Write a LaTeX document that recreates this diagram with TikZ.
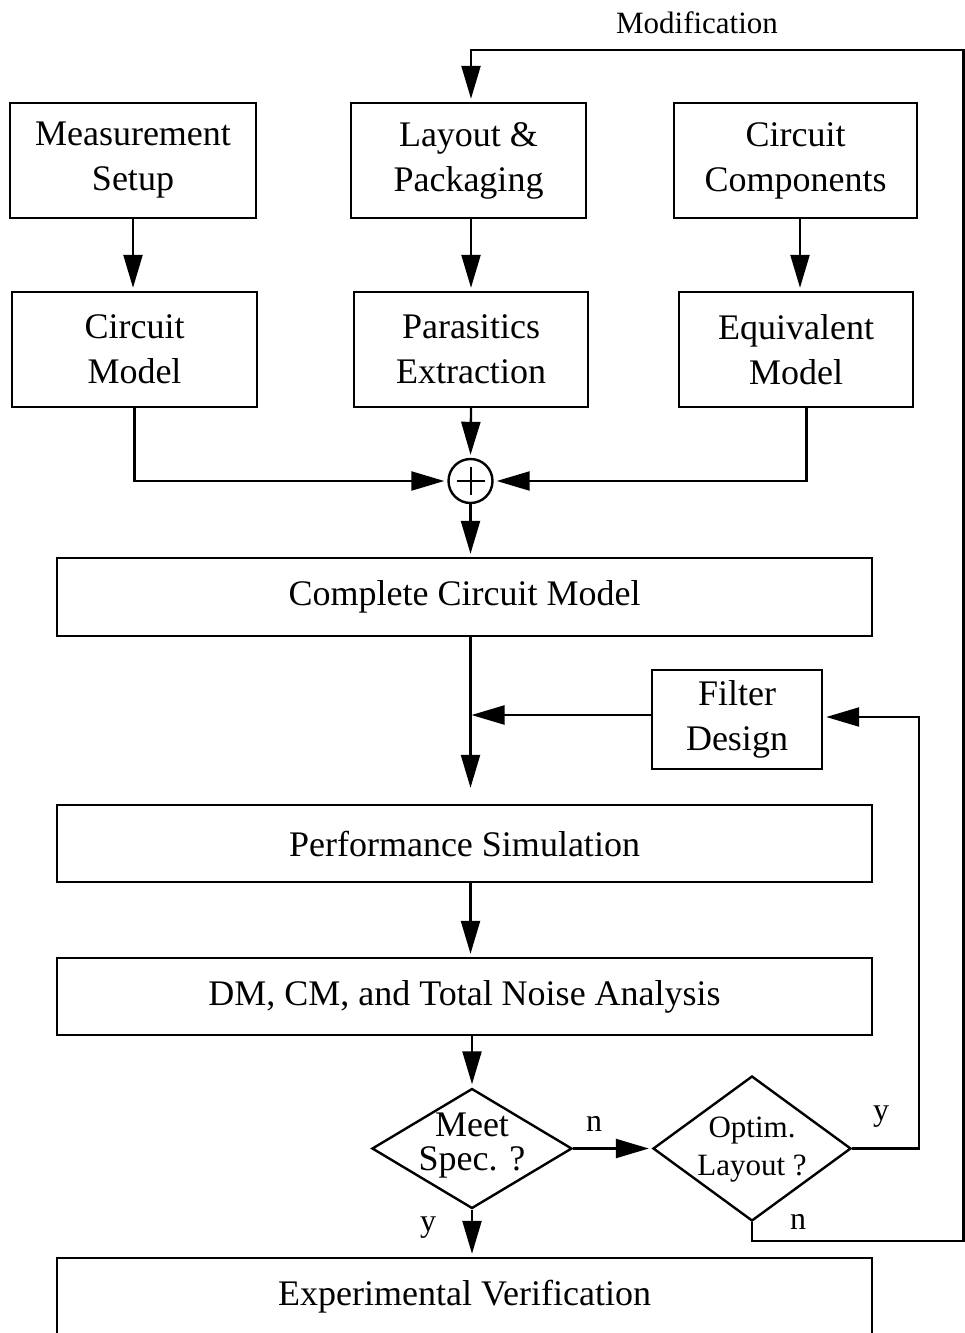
\documentclass[tikz,border=0pt]{standalone}
\usepackage{fontspec}
\setmainfont{Liberation Serif}
\usetikzlibrary{arrows.meta,shapes.geometric}
\begin{document}
\begin{tikzpicture}[x=1pt,y=-1pt,
  box/.style={draw,line width=2.4pt,inner sep=0pt,align=center,font=\fontsize{36}{45}\selectfont},
  dia/.style={draw,diamond,line width=2.4pt,inner sep=0pt},
  link/.style={line width=2.3pt},
  arr/.style={link,-{Triangle[length=33pt,width=19pt]},shorten >=3pt},
  lbl/.style={font=\fontsize{32}{36}\selectfont,inner sep=0pt}]
\useasboundingbox (0,0) rectangle (965,1333);
% boxes
\node[box,minimum width=246pt,minimum height=115pt] (ms) at (133,160.5) {Measurement\\Setup};
\node[box,minimum width=235pt,minimum height=115pt] (lp) at (468.5,160.5) {Layout \&\\Packaging};
\node[box,minimum width=243pt,minimum height=115pt] (cc) at (795.5,160.5) {Circuit\\Components};
\node[box,minimum width=245pt,minimum height=115pt] (cm) at (134.5,349.5) {Circuit\\Model};
\node[box,minimum width=234pt,minimum height=115pt] (pe) at (471,349.5) {Parasitics\\Extraction};
\node[box,minimum width=234pt,minimum height=115pt] (em) at (796,349.5) {Equivalent\\Model};
\node[draw,circle,line width=2.4pt,minimum size=44pt,inner sep=0pt] (sum) at (470.5,481) {};
\draw[line width=2pt] (sum.center) +(-14,0) -- +(14,0) (sum.center) +(0,-14) -- +(0,14);
\node[box,minimum width=815pt,minimum height=78pt] (ccm) at (464.5,597) {Complete Circuit Model};
\node[box,minimum width=170pt,minimum height=99pt] (fd) at (737,719.5) {Filter\\Design};
\node[box,minimum width=815pt,minimum height=77pt] (ps) at (464.5,843.5) {Performance Simulation};
\node[box,minimum width=815pt,minimum height=77pt] (dm) at (464.5,996.5) {DM, CM, and Total Noise Analysis};
\node[dia,minimum width=200pt,minimum height=120pt] (meet) at (472,1148.5) {};
\node[align=center,inner sep=0pt,font=\fontsize{36}{34}\selectfont] at ([yshift=3pt]meet.center) {Meet\\Spec. ?};
\node[dia,minimum width=198pt,minimum height=145pt] (opt) at (752,1148.5) {};
\node[align=center,inner sep=0pt,font=\fontsize{31}{38}\selectfont] at ([yshift=-1pt]opt.center) {Optim.\\Layout ?};
\node[box,minimum width=815pt,minimum height=78pt] (ev) at (464.5,1297) {Experimental Verification};
% labels
\node[font=\fontsize{31}{36}\selectfont] (mod) at (697,23) {Modification};
\node[lbl] (ln1) at (594,1124) {n};
\node[lbl] (ly1) at (881,1117) {y};
\node[lbl] (ly2) at (428,1228) {y};
\node[lbl] (ln2) at (798,1222) {n};
% coordinates
\coordinate (rt) at (963.5,50);
\coordinate (fdw) at ([yshift=4.5pt]fd.west);
% connectors
\draw[arr] (ms.south) -- (ms.south |- cm.north);
\draw[arr] (pe.north |- lp.south) -- (pe.north);
\draw[arr] ([xshift=4.5pt]cc.south) -- ([xshift=4.5pt]cc.south |- em.north);
\draw[arr] (pe.south) -- (sum.north);
\draw[arr] (cm.south) |- (sum.west);
\draw[arr] ([xshift=10.5pt]em.south) |- (sum.east);
\draw[arr] (sum.south) -- (sum.south |- ccm.north);
\draw[arr,shorten >=16pt] (sum.south |- ccm.south) -- (sum.south |- ps.north);
\draw[arr,shorten >=1pt] (fdw) -- (fdw -| sum.south);
\draw[arr] (sum.south |- ps.south) -- (sum.south |- dm.north);
\draw[arr] (meet.north |- dm.south) -- (meet.north);
\draw[arr] (meet.east) -- (opt.west);
\draw[arr] (meet.south) -- (meet.south |- ev.north);
\draw[arr] (opt.east) -| ([xshift=96pt,yshift=2.5pt]fd.east) -- ([yshift=2.5pt]fd.east);
\draw[arr] (opt.south) -- ++(0,19) -| (rt) -| (pe.north |- lp.north);
\end{tikzpicture}
\end{document}
